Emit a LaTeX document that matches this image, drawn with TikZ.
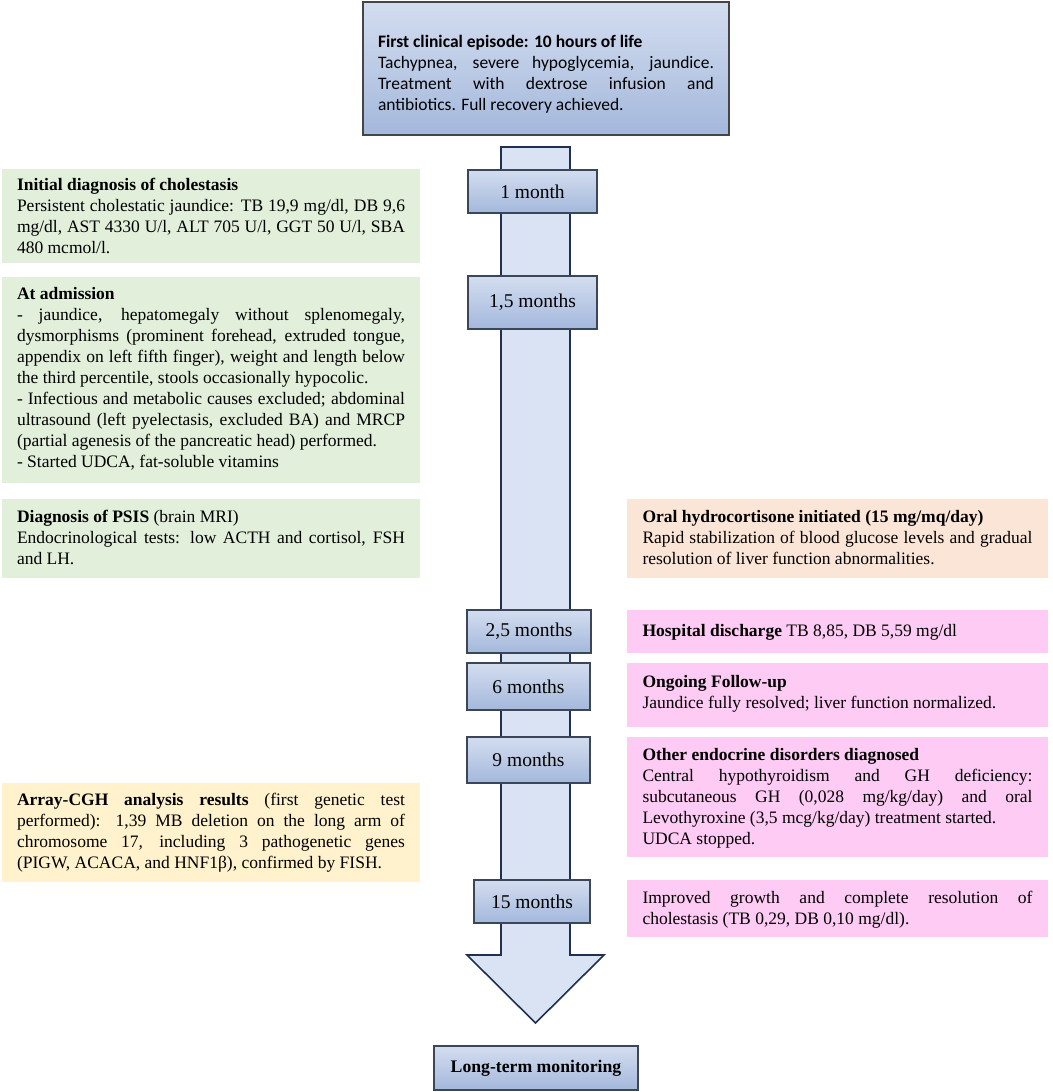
\documentclass[tikz,border=0pt]{standalone}
\usepackage{fontspec}
\setmainfont{Liberation Serif}
\newfontfamily\calibrifont{Carlito}
\definecolor{gtop}{HTML}{D3DDEF}
\definecolor{gmid}{HTML}{EEF2F9}
\definecolor{gbot}{HTML}{A4B8DC}
\definecolor{boxline}{HTML}{3B4658}
\definecolor{topline}{HTML}{454545}
\definecolor{shaft}{HTML}{DAE3F3}
\definecolor{shaftline}{HTML}{1F3050}
\definecolor{greenbg}{HTML}{E2EFDA}
\definecolor{yellowbg}{HTML}{FFF2CC}
\definecolor{peachbg}{HTML}{FBE5D6}
\definecolor{pinkbg}{HTML}{FDCBF3}
\newcommand{\prepjust}{\tolerance=10000\hbadness=10000\emergencystretch=0pt\strut}
\begin{document}
\begin{tikzpicture}[x=1pt,y=-1pt,
  gbox/.style={draw=boxline, line width=1.2pt, top color=gtop, middle color=gmid, bottom color=gbot,
    inner sep=0pt, font=\fontsize{19.5}{23}\selectfont},
  panel/.style={inner sep=0pt, draw=none},
  greenpanel/.style={panel, fill=greenbg, minimum width=418pt},
  pinkpanel/.style={panel, fill=pinkbg, minimum width=421pt},
  txt/.style={inner sep=0pt, align=justify, font=\fontsize{17.5}{21}\selectfont},
  lefttxt/.style={txt, text width=388pt},
  righttxt/.style={txt, text width=390pt},
]
\useasboundingbox (0,0) rectangle (1052,1092);
\fill[white] (0,0) rectangle (1052,1092);

% timeline arrow
\draw[fill=shaft, draw=shaftline, line width=1.6pt, line join=miter]
  (501,147) -- (570,147) -- (570,955) -- (604,955) -- (535.5,1023) -- (467,955) -- (501,955) -- cycle;

% top box
\node[gbox, draw=topline, line width=1.6pt, minimum width=366pt, minimum height=133pt] (top) at (546,68.5) {};
\node[txt, text width=336pt, font=\calibrifont\fontsize{17.5}{21}\selectfont] (toptxt) at (546,75)
  {\prepjust\textbf{First clinical episode: 10 hours of life}\\
   Tachypnea, severe hypoglycemia, jaundice.\linebreak
   Treatment with dextrose infusion and\linebreak
   antibiotics. Full recovery achieved.\strut};

% month labels
\node[gbox, minimum width=129pt, minimum height=43pt] (m1) at (532.5,191.5) {1 month};
\node[gbox, minimum width=129pt, minimum height=53pt] (m15) at (532.5,302.5) {1,5 months};
\node[gbox, minimum width=124pt, minimum height=43pt] (m25) at (529,631.5) {2,5 months};
\node[gbox, minimum width=123pt, minimum height=47pt] (m6) at (528.5,686.5) {6 months};
\node[gbox, minimum width=123pt, minimum height=46pt] (m9) at (528.5,760) {9 months};
\node[gbox, minimum width=116pt, minimum height=43pt] (m15b) at (532,901.5) {15 months};
\node[gbox, minimum width=204pt, minimum height=44pt, font=\fontsize{17.7}{21}\selectfont] (lt) at (536,1068) {\textbf{Long-term monitoring}};

% left panels
\node[greenpanel, minimum height=94pt] (g1) at (211,216) {};
\node[lefttxt] (g1t) at (211,218)
  {\prepjust\textbf{Initial diagnosis of cholestasis}\\
   Persistent cholestatic jaundice: TB 19,9 mg/dl, DB 9,6\linebreak
   mg/dl, AST 4330 U/l, ALT 705 U/l, GGT 50 U/l, SBA\linebreak
   480 mcmol/l.\strut};

\node[greenpanel, minimum height=206pt] (g2) at (211,380) {};
\node[lefttxt] (g2t) at (211,379)
  {\prepjust\textbf{At admission}\\
   - jaundice, hepatomegaly without splenomegaly,\linebreak
   dysmorphisms (prominent forehead, extruded tongue,\linebreak
   appendix on left fifth finger), weight and length below\linebreak
   the third percentile, stools occasionally hypocolic.\\
   - Infectious and metabolic causes excluded; abdominal\linebreak
   ultrasound (left pyelectasis, excluded BA) and MRCP\linebreak
   (partial agenesis of the pancreatic head) performed.\\
   - Started UDCA, fat-soluble vitamins\strut};

\node[greenpanel, minimum height=79pt] (g3) at (211,538.5) {};
\node[lefttxt] (g3t) at (211,539)
  {\prepjust\textbf{Diagnosis of PSIS} (brain MRI)\\
   Endocrinological tests: low ACTH and cortisol, FSH\linebreak
   and LH.\strut};

\node[panel, fill=yellowbg, minimum width=418pt, minimum height=99pt] (y1) at (211,832.5) {};
\node[lefttxt] (y1t) at (211,833)
  {\prepjust\textbf{Array-CGH analysis results} (first genetic test\linebreak
   performed): 1,39 MB deletion on the long arm of\linebreak
   chromosome 17, including 3 pathogenetic genes\linebreak
   (PIGW, ACACA, and HNF1β), confirmed by FISH.\strut};

% right panels
\node[panel, fill=peachbg, minimum width=421pt, minimum height=79pt] (p0) at (837.5,538.5) {};
\node[righttxt] (p0t) at (837.5,539)
  {\prepjust\textbf{Oral hydrocortisone initiated (15 mg/mq/day)}\\
   Rapid stabilization of blood glucose levels and gradual\linebreak
   resolution of liver function abnormalities.\strut};

\node[pinkpanel, minimum height=43pt] (p1) at (837.5,631.5) {};
\node[righttxt] (p1t) at (837.5,632)
  {\prepjust\textbf{Hospital discharge} TB 8,85, DB 5,59 mg/dl\strut};

\node[pinkpanel, minimum height=64pt] (p2) at (837.5,695) {};
\node[righttxt] (p2t) at (837.5,694)
  {\prepjust\textbf{Ongoing Follow-up}\\
   Jaundice fully resolved; liver function normalized.\strut};

\node[pinkpanel, minimum height=120pt] (p3) at (837.5,797) {};
\node[righttxt] (p3t) at (837.5,798)
  {\prepjust\textbf{Other endocrine disorders diagnosed}\\
   Central hypothyroidism and GH deficiency:\linebreak
   subcutaneous GH (0,028 mg/kg/day) and oral\linebreak
   Levothyroxine (3,5 mcg/kg/day) treatment started.\\
   UDCA stopped.\strut};

\node[pinkpanel, minimum height=57pt] (p4) at (837.5,908.5) {};
\node[righttxt] (p4t) at (837.5,910)
  {\prepjust Improved growth and complete resolution of\linebreak
   cholestasis (TB 0,29, DB 0,10 mg/dl).\strut};
\end{tikzpicture}
\end{document}
